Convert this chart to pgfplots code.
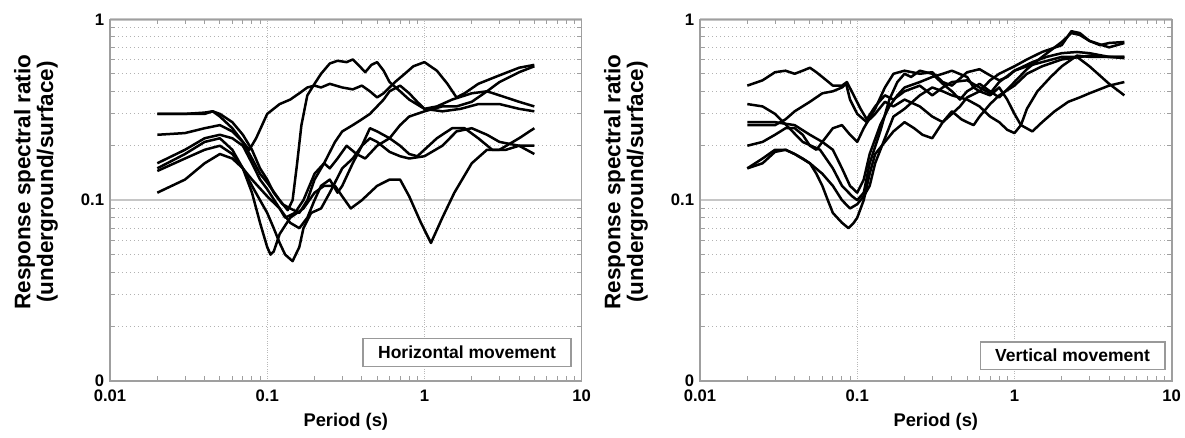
\documentclass[border=0pt]{standalone}
\usepackage{fontspec}
\setmainfont{Liberation Sans}
\usepackage{pgfplots}
\pgfplotsset{compat=1.18}

\pgfplotscreateplotcyclelist{blk}{black,solid,mark=none\\}

\pgfplotsset{
  spec/.style={
    scale only axis, width=283pt, height=217pt,
    xmin=0.01, xmax=10, ymin=0.01, ymax=1,
    xtick={0.01,0.1,1,10}, xticklabels={0.01,0.1,1,10},
    ytick={0.01,0.1,1}, yticklabels={0,0.1,1},
    minor xtick={0.02,0.03,0.04,0.05,0.06,0.07,0.08,0.09,0.2,0.3,0.4,0.5,0.6,0.7,0.8,0.9,2,3,4,5,6,7,8,9},
    minor ytick={0.02,0.03,0.04,0.05,0.06,0.07,0.08,0.09,0.2,0.3,0.4,0.5,0.6,0.7,0.8,0.9},
    xmajorgrids, ymajorgrids, yminorgrids,
    major x grid style={gray!55, densely dotted, line width=0.5pt},
    major y grid style={gray!45, line width=1.4pt},
    minor y grid style={gray!60, dotted, line width=0.7pt},
    axis line style={gray!75, line width=1pt},
    tick style={gray!75, line width=0.6pt},
    major tick length=0pt, minor tick length=3pt,
    tick align=inside,
    tick label style={font=\bfseries\fontsize{10}{12}\selectfont},
    xticklabel style={yshift=-2pt},
    xlabel={Period (s)},
    xlabel style={font=\bfseries\fontsize{11}{13}\selectfont, at={(axis description cs:0.5,-0.113)}, anchor=center},
    ylabel={Response spectral ratio\\(underground/surface)},
    ylabel style={font=\bfseries\fontsize{13.5}{12}\selectfont, align=center, at={(axis description cs:-0.157,0.55)}, anchor=center},
    cycle list name=blk,
    every axis plot/.append style={line width=1.5pt, line join=round},
  },
}
\tikzset{tag/.style={draw=gray!80, line width=0.8pt, fill=white, anchor=south east,
    inner xsep=9pt, minimum height=16.5pt, font=\bfseries\fontsize{10.5}{12}\selectfont}}

\begin{document}
\begin{tikzpicture}
\useasboundingbox (-66pt,-33.6pt) rectangle (645pt,228.6pt);

% horizontal movement
\begin{loglogaxis}[spec]
\addplot coordinates {(0.02,0.30)(0.03,0.30)(0.04,0.30)(0.045,0.31)(0.05,0.29)(0.06,0.25)(0.07,0.21)(0.077,0.19)(0.085,0.22)(0.1,0.30)(0.12,0.34)(0.14,0.36)(0.16,0.39)(0.18,0.42)(0.2,0.43)(0.22,0.42)(0.25,0.44)(0.3,0.42)(0.35,0.41)(0.4,0.43)(0.45,0.40)(0.5,0.37)(0.55,0.39)(0.65,0.45)(0.75,0.50)(0.85,0.55)(1.0,0.58)(1.2,0.52)(1.4,0.44)(1.6,0.37)(1.8,0.39)(2.2,0.44)(3,0.49)(4,0.54)(5,0.56)};
\addplot coordinates {(0.02,0.23)(0.03,0.235)(0.04,0.25)(0.05,0.26)(0.06,0.24)(0.07,0.21)(0.08,0.17)(0.09,0.14)(0.1,0.125)(0.12,0.10)(0.135,0.088)(0.145,0.10)(0.155,0.16)(0.165,0.26)(0.18,0.38)(0.2,0.44)(0.22,0.50)(0.25,0.57)(0.28,0.59)(0.32,0.58)(0.35,0.60)(0.38,0.56)(0.42,0.51)(0.46,0.56)(0.5,0.58)(0.55,0.52)(0.6,0.45)(0.7,0.40)(0.8,0.36)(1.0,0.32)(1.3,0.31)(1.7,0.32)(2.2,0.34)(3,0.34)(4,0.32)(5,0.31)};
\addplot coordinates {(0.02,0.15)(0.03,0.18)(0.04,0.21)(0.05,0.22)(0.06,0.19)(0.07,0.15)(0.08,0.11)(0.09,0.075)(0.1,0.055)(0.105,0.05)(0.11,0.052)(0.12,0.065)(0.14,0.08)(0.17,0.09)(0.2,0.11)(0.23,0.12)(0.27,0.12)(0.3,0.105)(0.34,0.09)(0.4,0.10)(0.5,0.12)(0.6,0.13)(0.7,0.13)(0.8,0.105)(0.95,0.075)(1.1,0.058)(1.3,0.08)(1.55,0.11)(2,0.16)(2.5,0.19)(3,0.19)(4,0.22)(5,0.25)};
\addplot coordinates {(0.02,0.145)(0.03,0.17)(0.04,0.19)(0.05,0.20)(0.06,0.18)(0.07,0.15)(0.08,0.12)(0.09,0.10)(0.1,0.085)(0.11,0.07)(0.12,0.058)(0.13,0.05)(0.145,0.046)(0.16,0.055)(0.17,0.07)(0.19,0.085)(0.22,0.09)(0.25,0.11)(0.3,0.15)(0.35,0.17)(0.4,0.2)(0.45,0.22)(0.5,0.21)(0.6,0.185)(0.7,0.175)(0.8,0.17)(1.0,0.175)(1.3,0.20)(1.6,0.24)(2,0.25)(2.5,0.23)(3,0.21)(4,0.20)(5,0.18)};
\addplot coordinates {(0.02,0.11)(0.03,0.13)(0.04,0.16)(0.05,0.18)(0.06,0.17)(0.07,0.15)(0.08,0.13)(0.1,0.105)(0.12,0.09)(0.14,0.075)(0.16,0.07)(0.18,0.08)(0.2,0.10)(0.22,0.12)(0.25,0.13)(0.28,0.11)(0.3,0.12)(0.35,0.16)(0.4,0.2)(0.45,0.25)(0.5,0.24)(0.6,0.22)(0.7,0.2)(0.8,0.18)(0.9,0.175)(1.0,0.19)(1.2,0.22)(1.5,0.25)(1.8,0.25)(2.2,0.22)(2.7,0.19)(3.3,0.19)(4,0.2)(5,0.2)};
\addplot coordinates {(0.02,0.16)(0.03,0.19)(0.04,0.22)(0.05,0.23)(0.06,0.22)(0.07,0.20)(0.08,0.16)(0.09,0.13)(0.1,0.115)(0.12,0.09)(0.13,0.08)(0.15,0.085)(0.17,0.10)(0.2,0.14)(0.23,0.16)(0.25,0.15)(0.28,0.17)(0.32,0.2)(0.37,0.18)(0.42,0.17)(0.5,0.2)(0.6,0.22)(0.7,0.26)(0.8,0.29)(1.0,0.31)(1.3,0.33)(1.6,0.33)(2,0.35)(2.5,0.40)(3,0.45)(4,0.51)(5,0.55)};
\addplot coordinates {(0.02,0.30)(0.03,0.30)(0.04,0.305)(0.045,0.31)(0.05,0.30)(0.06,0.27)(0.07,0.23)(0.08,0.19)(0.09,0.15)(0.1,0.13)(0.11,0.11)(0.125,0.095)(0.14,0.09)(0.16,0.085)(0.18,0.10)(0.2,0.13)(0.23,0.16)(0.27,0.21)(0.3,0.24)(0.35,0.26)(0.4,0.28)(0.45,0.30)(0.5,0.33)(0.55,0.36)(0.6,0.40)(0.7,0.43)(0.8,0.39)(0.9,0.35)(1.0,0.32)(1.2,0.33)(1.5,0.36)(2,0.39)(2.5,0.40)(3,0.38)(4,0.35)(5,0.33)};
\node[tag] at (rel axis cs:0.979,0.039) {Horizontal movement};
\end{loglogaxis}

% vertical movement
\begin{loglogaxis}[spec, at={(354pt,0pt)}]
\addplot coordinates {(0.02,0.43)(0.025,0.46)(0.03,0.51)(0.035,0.52)(0.04,0.50)(0.045,0.52)(0.05,0.54)(0.055,0.51)(0.06,0.48)(0.07,0.43)(0.08,0.43)(0.086,0.45)(0.095,0.38)(0.105,0.32)(0.115,0.28)(0.13,0.33)(0.15,0.38)(0.17,0.36)(0.2,0.40)(0.25,0.43)(0.3,0.38)(0.35,0.42)(0.4,0.45)(0.5,0.46)(0.6,0.42)(0.7,0.39)(0.8,0.45)(1.0,0.52)(1.3,0.58)(1.6,0.62)(2,0.65)(2.5,0.66)(3,0.65)(4,0.62)(5,0.62)};
\addplot coordinates {(0.02,0.34)(0.025,0.33)(0.03,0.30)(0.037,0.25)(0.045,0.21)(0.058,0.19)(0.07,0.15)(0.08,0.12)(0.093,0.105)(0.1,0.10)(0.11,0.11)(0.12,0.16)(0.14,0.24)(0.16,0.36)(0.18,0.45)(0.2,0.50)(0.22,0.48)(0.25,0.52)(0.3,0.50)(0.35,0.44)(0.4,0.40)(0.45,0.36)(0.5,0.40)(0.6,0.44)(0.7,0.40)(0.8,0.37)(1.0,0.45)(1.2,0.53)(1.5,0.62)(2,0.75)(2.3,0.84)(2.6,0.82)(3,0.76)(4,0.70)(5,0.74)};
\addplot coordinates {(0.02,0.26)(0.025,0.26)(0.03,0.26)(0.035,0.28)(0.04,0.31)(0.05,0.35)(0.06,0.39)(0.07,0.40)(0.08,0.42)(0.085,0.44)(0.09,0.36)(0.1,0.30)(0.115,0.27)(0.13,0.30)(0.15,0.35)(0.17,0.33)(0.2,0.36)(0.25,0.33)(0.3,0.29)(0.35,0.27)(0.4,0.30)(0.45,0.33)(0.5,0.37)(0.6,0.40)(0.7,0.46)(0.8,0.50)(1.0,0.55)(1.2,0.60)(1.5,0.66)(2,0.72)(2.3,0.86)(2.6,0.84)(3,0.76)(3.5,0.72)(4,0.74)(5,0.75)};
\addplot coordinates {(0.02,0.20)(0.025,0.21)(0.03,0.23)(0.035,0.25)(0.04,0.25)(0.045,0.23)(0.05,0.20)(0.055,0.19)(0.06,0.21)(0.07,0.25)(0.08,0.26)(0.09,0.23)(0.1,0.21)(0.11,0.25)(0.13,0.32)(0.15,0.42)(0.17,0.50)(0.2,0.52)(0.25,0.50)(0.3,0.51)(0.35,0.45)(0.4,0.43)(0.5,0.51)(0.6,0.53)(0.7,0.49)(0.8,0.46)(0.9,0.48)(1.0,0.52)(1.2,0.55)(1.5,0.58)(2,0.62)(2.5,0.62)(3,0.55)(4,0.44)(5,0.38)};
\addplot coordinates {(0.02,0.15)(0.025,0.16)(0.03,0.185)(0.035,0.19)(0.04,0.18)(0.045,0.17)(0.05,0.16)(0.055,0.14)(0.06,0.12)(0.065,0.10)(0.07,0.085)(0.08,0.075)(0.088,0.07)(0.095,0.075)(0.1,0.08)(0.11,0.10)(0.12,0.14)(0.13,0.18)(0.15,0.21)(0.17,0.24)(0.2,0.27)(0.23,0.25)(0.26,0.23)(0.3,0.22)(0.35,0.27)(0.4,0.31)(0.46,0.28)(0.5,0.27)(0.55,0.26)(0.6,0.29)(0.7,0.34)(0.8,0.38)(1.0,0.43)(1.2,0.50)(1.5,0.55)(2,0.60)(3,0.63)(4,0.62)(5,0.61)};
\addplot coordinates {(0.02,0.15)(0.025,0.17)(0.03,0.19)(0.035,0.19)(0.04,0.18)(0.05,0.16)(0.06,0.14)(0.07,0.12)(0.08,0.10)(0.09,0.09)(0.1,0.095)(0.11,0.105)(0.12,0.12)(0.13,0.16)(0.15,0.22)(0.17,0.29)(0.2,0.32)(0.25,0.38)(0.3,0.42)(0.35,0.40)(0.4,0.38)(0.5,0.36)(0.6,0.33)(0.7,0.29)(0.8,0.27)(0.9,0.245)(1.0,0.235)(1.1,0.26)(1.2,0.32)(1.4,0.40)(1.7,0.48)(2,0.55)(2.5,0.63)(3,0.62)(4,0.62)(5,0.62)};
\addplot coordinates {(0.02,0.27)(0.03,0.27)(0.04,0.26)(0.05,0.23)(0.06,0.21)(0.07,0.19)(0.08,0.15)(0.09,0.12)(0.1,0.11)(0.11,0.13)(0.12,0.18)(0.14,0.26)(0.16,0.33)(0.18,0.38)(0.2,0.42)(0.25,0.45)(0.3,0.48)(0.35,0.50)(0.4,0.52)(0.5,0.48)(0.55,0.42)(0.6,0.40)(0.7,0.38)(0.8,0.42)(0.9,0.36)(1.0,0.30)(1.1,0.26)(1.3,0.24)(1.5,0.27)(1.8,0.31)(2.2,0.35)(2.6,0.37)(3,0.39)(4,0.43)(5,0.45)};
\node[tag] at (rel axis cs:0.987,0.03) {Vertical movement};
\end{loglogaxis}
\end{tikzpicture}
\end{document}
